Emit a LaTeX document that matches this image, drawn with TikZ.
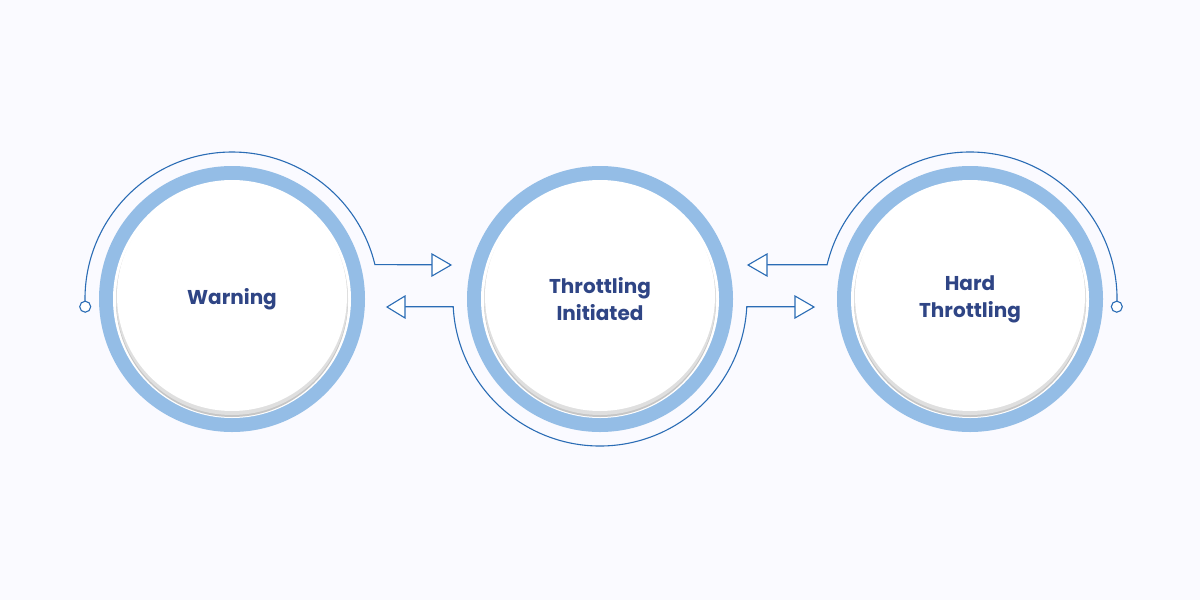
\documentclass[tikz,border=0pt]{standalone}
\usepackage{fontspec}
\setmainfont{Poppins}
\begin{document}
\definecolor{ring}{HTML}{94BDE6}
\definecolor{ln}{HTML}{2A6CB5}
\definecolor{tx}{HTML}{2F4585}
\begin{tikzpicture}[x=1pt,y=-1pt,
  conn/.style={draw=ln,line width=1.1pt},
  tip/.style={draw=ln,line width=1.1pt,fill=white,line join=miter},
  lbl/.style={font=\fontsize{20}{27}\selectfont\bfseries,text=tx,align=center}]
\fill[white!98!blue] (0,0) rectangle (1200,600);
\foreach \n/\x in {a/232,b/600,c/970}{
  \fill[ring] (\x,299) circle (133);
  \fill[white] (\x,299) circle (119);
  \fill[gray!45] (\x,301) circle (116);
  \fill[gray!25] (\x,299) circle (116);
  \fill[white] (\x,296) circle (115);
  \coordinate (\n) at (\x,299);
}
\node[lbl] (t1) at (232,299) {Warning};
\node[lbl] (t2) at (600,299) {Throttling\\Initiated};
\node[lbl] (t3) at (970,299) {Hard\\Throttling};
% left arc
\coordinate (e1) at (85.2,306.7);
\draw[conn] (e1) arc[start angle=177,end angle=346.5,radius=147] -- (432,264.7);
\draw[tip] (432,254) -- (451,265) -- (432,276) -- cycle;
\draw[conn,fill=white] (e1) circle (5.5);
% middle arc
\draw[conn] (405,306.7) -- (453.2,306.7) arc[start angle=177,end angle=3,radius=147] -- (795,306.7);
\draw[tip] (405,296) -- (387,307) -- (405,318) -- cycle;
\draw[tip] (795,296) -- (814,307) -- (795,318) -- cycle;
% right arc
\coordinate (e3) at (1116.8,306.7);
\draw[conn] (767,264.7) -- (827.1,264.7) arc[start angle=193.5,end angle=363,radius=147];
\draw[tip] (767,254) -- (748,265) -- (767,276) -- cycle;
\draw[conn,fill=white] (e3) circle (5.5);
\end{tikzpicture}
\end{document}
